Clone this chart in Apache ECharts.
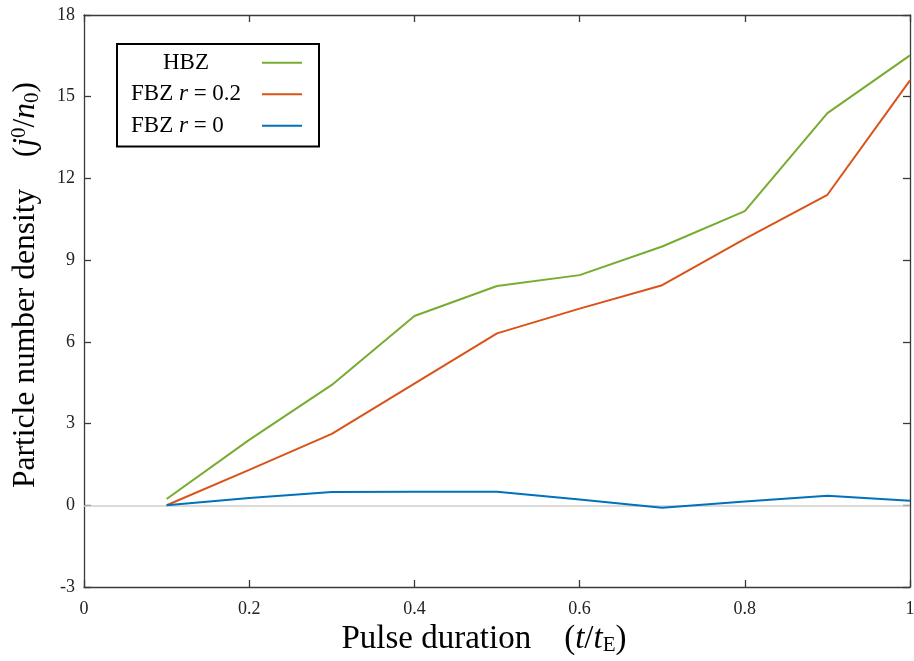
<!DOCTYPE html>
<html>
<head>
<meta charset="utf-8">
<script src="https://cdn.jsdelivr.net/npm/echarts@6/dist/echarts.min.js"></script>
<style>
  html, body { margin: 0; padding: 0; background: #fff; }
  #chart { width: 914px; height: 661px; }
</style>
</head>
<body>
<div id="chart"></div>
<script>
// Pulse duration samples (t / t_E)
const pulseDuration = [0.1, 0.2, 0.3, 0.4, 0.5, 0.6, 0.7, 0.8, 0.9, 1.0];

// Particle number density j^0 / n_0 for each model
const hbz     = [0.23, 2.4, 4.42, 6.95, 8.05, 8.45, 9.5, 10.8, 14.4, 16.52];
const fbzR02  = [0.0, 1.3, 2.62, 4.47, 6.31, 7.22, 8.08, 9.78, 11.4, 15.6];
const fbzR0   = [0.0, 0.27, 0.49, 0.5, 0.5, 0.21, -0.09, 0.14, 0.35, 0.17];

const seriesNames = ['HBZ', 'FBZ r = 0.2', 'FBZ r = 0'];
const seriesColors = ['#77ac30', '#d95319', '#0072bd'];

const serif = 'Liberation Serif';
const axisColor = '#3a3a3a';

function pairs(ys) {
  return pulseDuration.map((x, i) => [x, ys[i]]);
}

function lineSeries(name, ys, color, extra) {
  return Object.assign({
    name: name,
    type: 'line',
    data: pairs(ys),
    symbol: 'none',
    lineStyle: { color: color, width: 2 },
    itemStyle: { color: color },
    z: 3
  }, extra || {});
}

const legendFont = 23;
const legendRich = {
  c:  { fontFamily: serif, fontSize: legendFont, color: '#000', align: 'left', padding: [0, 0, 0, 32] },
  rm: { fontFamily: serif, fontSize: legendFont, color: '#000', align: 'left' },
  it: { fontFamily: serif, fontSize: legendFont, color: '#000', fontStyle: 'italic', align: 'left' }
};

const titleFont = 33;
const chart = echarts.init(document.getElementById('chart'), null, { renderer: 'canvas' });

chart.setOption({
  backgroundColor: '#fff',
  animation: false,
  grid: { left: 84, right: 4, top: 15, bottom: 74, containLabel: false, outerBoundsMode: 'none' },
  legend: {
    left: 117,
    top: 44,
    orient: 'vertical',
    align: 'right',
    icon: 'rect',
    itemWidth: 40,
    itemHeight: 2,
    itemGap: 0,
    padding: [3, 17, 5, 14],
    borderColor: '#000',
    borderWidth: 2,
    backgroundColor: '#fff',
    data: seriesNames,
    formatter: function (name) {
      if (name === 'HBZ') return '{c|HBZ}';
      if (name === 'FBZ r = 0.2') return '{rm|FBZ }{it|r}{rm| = 0.2}';
      return '{rm|FBZ }{it|r}{rm| = 0}';
    },
    textStyle: {
      fontFamily: serif,
      fontSize: legendFont,
      color: '#000',
      width: 126,
      lineHeight: 31.5,
      rich: legendRich
    }
  },
  xAxis: [{
    type: 'value',
    min: 0,
    max: 1,
    interval: 0.2,
    position: 'bottom',
    name: '{rm|Pulse duration\u2003(}{it|t}{rm|/}{it|t}{sub|E}{rm|)}{sp|}',
    nameLocation: 'middle',
    nameGap: 35,
    nameTextStyle: {
      rich: {
        rm:  { fontFamily: serif, fontSize: titleFont, color: '#000' },
        it:  { fontFamily: serif, fontSize: titleFont, color: '#000', fontStyle: 'italic' },
        sub: { fontFamily: serif, fontSize: 21, color: '#000', verticalAlign: 'bottom', padding: [13, 0, 0, 0] },
        sp:  { width: 26 }
      }
    },
    axisLine: { show: true, onZero: false, lineStyle: { color: axisColor, width: 1.3 } },
    axisTick: { show: true, inside: true, length: 7, lineStyle: { color: axisColor, width: 1.3 } },
    axisLabel: {
      margin: 13,
      fontFamily: serif,
      fontSize: 18,
      color: '#222',
      formatter: v => (v === 0 || v === 1) ? String(v) : v.toFixed(1)
    },
    splitLine: { show: false }
  }, {
    type: 'value',
    min: 0,
    max: 1,
    interval: 0.2,
    position: 'top',
    axisLine: { show: true, onZero: false, lineStyle: { color: axisColor, width: 1.3 } },
    axisTick: { show: true, inside: true, length: 7, lineStyle: { color: axisColor, width: 1.3 } },
    axisLabel: { show: false },
    splitLine: { show: false }
  }],
  yAxis: [{
    type: 'value',
    min: -3,
    max: 18,
    interval: 3,
    position: 'left',
    name: '{sp|}{rm|Particle number density\u2003(}{it|j}{sup|0}{rm|/}{it|n}{sub|0}{rm|)}',
    nameLocation: 'middle',
    nameGap: 41,
    nameTextStyle: {
      rich: {
        rm:  { fontFamily: serif, fontSize: 31.5, color: '#000' },
        it:  { fontFamily: serif, fontSize: 31.5, color: '#000', fontStyle: 'italic' },
        sup: { fontFamily: serif, fontSize: 21, color: '#000', verticalAlign: 'top', padding: [0, 0, 13, 0] },
        sub: { fontFamily: serif, fontSize: 21, color: '#000', verticalAlign: 'bottom', padding: [13, 0, 0, 0] },
        sp:  { width: 32 }
      }
    },
    axisLine: { show: true, onZero: false, lineStyle: { color: axisColor, width: 1.3 } },
    axisTick: { show: true, inside: true, length: 7, lineStyle: { color: axisColor, width: 1.3 } },
    axisLabel: { margin: 9, fontFamily: serif, fontSize: 18, color: '#222' },
    splitLine: { show: false }
  }, {
    type: 'value',
    min: -3,
    max: 18,
    interval: 3,
    position: 'right',
    axisLine: { show: true, onZero: false, lineStyle: { color: axisColor, width: 1.3 } },
    axisTick: { show: true, inside: true, length: 7, lineStyle: { color: axisColor, width: 1.3 } },
    axisLabel: { show: false },
    splitLine: { show: false }
  }],
  series: [
    lineSeries(seriesNames[0], hbz, seriesColors[0]),
    lineSeries(seriesNames[1], fbzR02, seriesColors[1]),
    lineSeries(seriesNames[2], fbzR0, seriesColors[2], {
      markLine: {
        silent: true,
        symbol: 'none',
        label: { show: false },
        lineStyle: { color: '#cfcfcf', width: 1.5, type: 'solid' },
        data: [{ yAxis: 0 }],
        z: 1
      }
    })
  ]
});
</script>
</body>
</html>
